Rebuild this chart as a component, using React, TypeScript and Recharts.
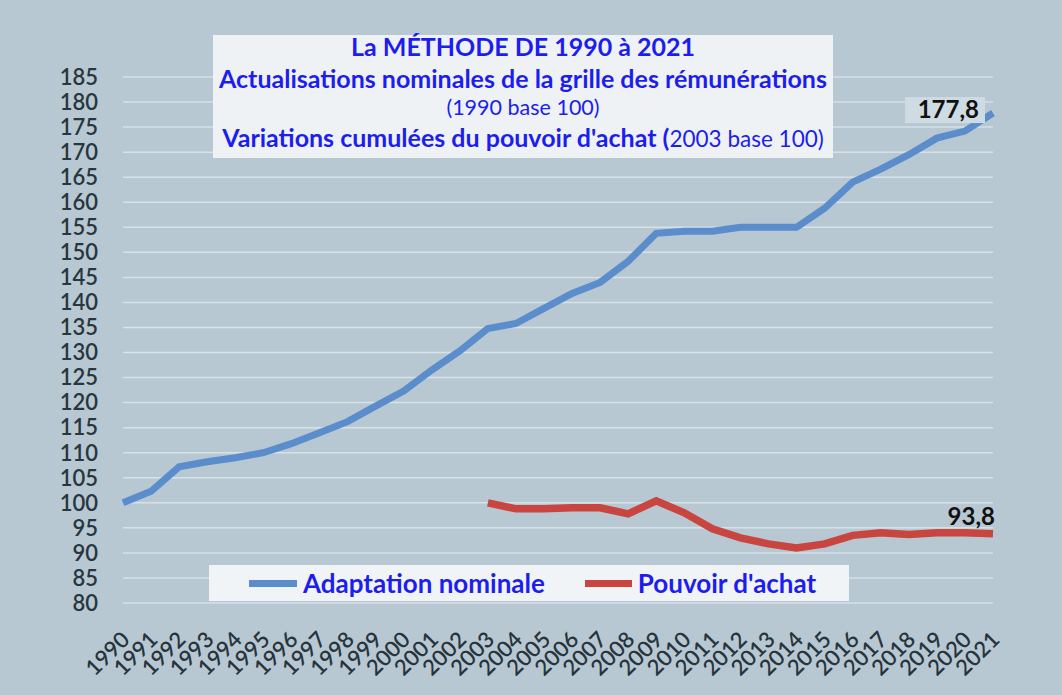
import { LineChart, Line, XAxis, YAxis, CartesianGrid, Legend } from 'recharts';

const years = [
    '1990', '1991', '1992', '1993', '1994', '1995', '1996', '1997', '1998', '1999',
    '2000', '2001', '2002', '2003', '2004', '2005', '2006', '2007', '2008', '2009',
    '2010', '2011', '2012', '2013', '2014', '2015', '2016', '2017', '2018', '2019',
    '2020', '2021',
];

// Adaptation nominale (1990 base 100)
const nominale = [
    100, 102.3, 107.2, 108.2, 109, 110, 111.8, 114, 116.2, 119.3,
    122.3, 126.5, 130.3, 134.8, 135.8, 138.8, 141.8, 144, 148.2, 153.8,
    154.2, 154.2, 155, 155, 155, 158.8, 164, 166.6, 169.5, 172.8,
    174.2, 177.8,
];

// Pouvoir d'achat (2003 base 100)
const pouvoirAchat = [
    null, null, null, null, null, null, null, null, null, null,
    null, null, null, 100, 98.8, 98.8, 99, 99, 97.8, 100.4,
    98, 94.8, 93, 91.8, 91, 91.8, 93.5, 94, 93.7, 94,
    94, 93.8,
];

const yTicks = [80, 85, 90, 95, 100, 105, 110, 115, 120, 125, 130, 135, 140, 145, 150, 155, 160, 165, 170, 175, 180, 185];

const data = years.map((year, i) => ({
    year,
    nominale: nominale[i],
    pouvoir: pouvoirAchat[i],
}));

const FONT = 'Lato, "Open Sans", sans-serif';
const BLUE_TEXT = '#1d1df0';
const BLUE_LINE = '#5b8ccb';
const RED_LINE = '#c9453f';
const LAST = years.length - 1;

const YearTick = ({ x, y, payload }: any) => (
    <text
        x={x + 4}
        y={y + 26}
        transform={`rotate(-45, ${x + 4}, ${y + 26})`}
        textAnchor="end"
        dominantBaseline="middle"
        fontSize={22}
        fontWeight={600}
        fill="#27343c"
        fontFamily={FONT}
    >
        {payload.value}
    </text>
);

const NominaleLabel = ({ x, y, index, value }: any) => {
    if (index !== LAST) return null;
    return (
        <g>
            <rect x={x - 88} y={y - 16} width={80} height={26} fill="#cfdbe3" />
            <text x={x - 14} y={y + 5} textAnchor="end" fontSize={24} fontWeight={700} fill="#111" fontFamily={FONT}>
                {String(value).replace('.', ',')}
            </text>
        </g>
    );
};

const PouvoirLabel = ({ x, y, index, value }: any) => {
    if (index !== LAST) return null;
    return (
        <text x={x + 2} y={y - 9} textAnchor="end" fontSize={24} fontWeight={700} fill="#111" fontFamily={FONT}>
            {String(value).replace('.', ',')}
        </text>
    );
};

const LegendBox = () => (
    <div
        style={{
            width: 640,
            height: 36,
            background: '#f1f4f6',
            display: 'flex',
            alignItems: 'center',
            fontFamily: FONT,
            fontWeight: 700,
            fontSize: 26,
            color: BLUE_TEXT,
        }}
    >
        <span style={{ display: 'inline-block', width: 48, height: 7, background: BLUE_LINE, marginLeft: 40 }} />
        <span style={{ marginLeft: 6 }}>Adaptation nominale</span>
        <span style={{ display: 'inline-block', width: 47, height: 7, background: RED_LINE, marginLeft: 40 }} />
        <span style={{ marginLeft: 6 }}>Pouvoir d'achat</span>
    </div>
);

export default function App() {
    return (
        <div
            style={{
                position: 'absolute',
                top: 0,
                left: 0,
                width: 1062,
                height: 695,
                background: '#b8c8d2',
                fontFamily: FONT,
            }}
        >
            <div
                style={{
                    position: 'absolute',
                    left: 213,
                    top: 35,
                    width: 620,
                    height: 123,
                    background: '#eef2f5',
                    color: BLUE_TEXT,
                    textAlign: 'center',
                    fontSize: 25,
                    lineHeight: '32px',
                    zIndex: 2,
                }}
            >
                <div style={{ fontWeight: 700, marginTop: -5 }}>La MÉTHODE DE 1990 à 2021</div>
                <div style={{ fontWeight: 700 }}>Actualisations nominales de la grille des rémunérations</div>
                <div style={{ fontSize: 21.5, lineHeight: '27px' }}>(1990 base 100)</div>
                <div>
                    <span style={{ fontWeight: 700 }}>Variations cumulées du pouvoir d'achat (</span>
                    <span style={{ fontSize: 22.5 }}>2003 base 100)</span>
                </div>
            </div>
            <LineChart
                width={1062}
                height={695}
                data={data}
                margin={{ top: 77, right: 69, left: 0, bottom: 0 }}
            >
                <CartesianGrid horizontal vertical={false} stroke="#d6e1e8" strokeWidth={1.5} />
                <XAxis
                    dataKey="year"
                    height={92}
                    interval={0}
                    axisLine={false}
                    tickLine={false}
                    tick={<YearTick />}
                />
                <YAxis
                    width={123}
                    domain={[80, 185]}
                    ticks={yTicks}
                    interval={0}
                    axisLine={false}
                    tickLine={false}
                    tickMargin={19}
                    tick={{ fontSize: 22, fontWeight: 600, fill: '#28363e', fontFamily: FONT }}
                />
                <Legend
                    verticalAlign="middle"
                    align="center"
                    layout="horizontal"
                    wrapperStyle={{ left: 209, top: 565, width: 640, height: 36 }}
                    content={() => <LegendBox />}
                />
                <Line
                    dataKey="nominale"
                    name="Adaptation nominale"
                    stroke={BLUE_LINE}
                    strokeWidth={7}
                    dot={false}
                    isAnimationActive={false}
                    label={<NominaleLabel />}
                />
                <Line
                    dataKey="pouvoir"
                    name="Pouvoir d'achat"
                    stroke={RED_LINE}
                    strokeWidth={7.5}
                    dot={false}
                    connectNulls={false}
                    isAnimationActive={false}
                    label={<PouvoirLabel />}
                />
            </LineChart>
        </div>
    );
}
